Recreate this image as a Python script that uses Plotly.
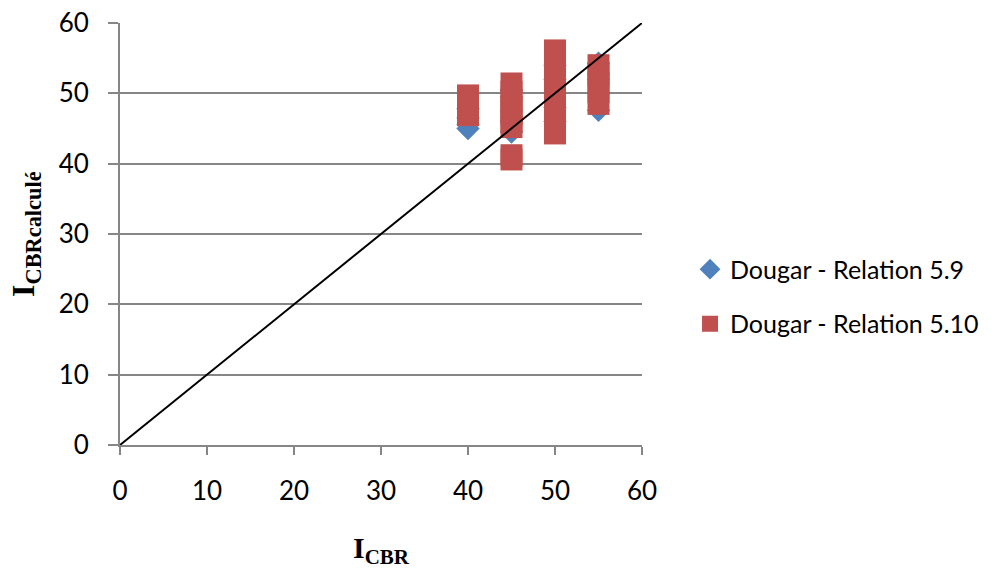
import plotly.graph_objects as go

# Dougar - Relation 5.9 (blue diamonds)
x_59 = [40, 40, 40, 40, 45, 45, 45, 45, 45, 50, 50, 50, 50, 50, 55, 55, 55, 55]
y_59 = [45.0, 45.6, 46.5, 47.8, 44.5, 46.0, 47.5, 49.5, 50.5, 46.0, 48.0, 50.0, 52.0, 54.0, 54.3, 52.0, 50.0, 47.6]

# Dougar - Relation 5.10 (red squares)
x_510 = [40, 40, 40, 40, 40,
         45, 45, 45, 45, 45, 45, 45, 45, 45,
         50, 50, 50, 50, 50, 50, 50, 50, 50, 50, 50,
         55, 55, 55, 55, 55]
y_510 = [49.7, 49.0, 48.3, 47.5, 46.9,
         51.4, 50.2, 49.0, 48.0, 47.0, 46.0, 45.2, 41.2, 40.6,
         56.1, 55.2, 53.8, 52.5, 51.7, 50.4, 49.3, 48.1, 46.8, 45.9, 44.3,
         54.0, 52.7, 51.5, 50.2, 48.5]

# Reference line y = x
line_x = [0, 60]
line_y = [0, 60]

x_ticks = [0, 10, 20, 30, 40, 50, 60]
y_ticks = [0, 10, 20, 30, 40, 50, 60]

x_title = "<b>I<sub>CBR</sub></b>"
y_title = "<b>I<sub>CBRcalculé</sub></b>"

fig = go.Figure()
fig.add_trace(go.Scatter(
    x=x_59, y=y_59, mode="markers", name="Dougar - Relation 5.9",
    legendgroup="a",
    marker=dict(symbol="diamond", size=18, color="#4F81BD"),
))
fig.add_trace(go.Scatter(
    x=x_510, y=y_510, mode="markers", name="Dougar - Relation 5.10",
    legendgroup="b",
    marker=dict(symbol="square", size=22, color="#C0504D"),
))
fig.add_trace(go.Scatter(
    x=line_x, y=line_y, mode="lines", showlegend=False,
    line=dict(color="black", width=2),
))

axis_common = dict(
    showline=True, linecolor="#868686", linewidth=2,
    ticks="outside", tickcolor="#868686", tickwidth=2,
    tickfont=dict(family="Lato", size=26, color="black"),
    zeroline=False, automargin=False, ticklabelstandoff=14,
    ticklabeloverflow="allow",
)

fig.update_layout(
    width=991, height=561,
    margin=dict(l=112, r=357, t=15, b=124),
    paper_bgcolor="white", plot_bgcolor="white",
    xaxis=dict(
        range=[0, 60], tickvals=x_ticks, showgrid=False, ticklen=8,
        **axis_common,
    ),
    yaxis=dict(
        range=[0, 60], tickvals=y_ticks, showgrid=True, ticklen=10,
        gridcolor="#868686", gridwidth=2,
        **axis_common,
    ),
    legend=dict(
        x=1.092, y=0.352, xanchor="left", yanchor="middle",
        font=dict(family="Lato", size=25, color="black"),
        tracegroupgap=19, traceorder="grouped",
        bgcolor="rgba(0,0,0,0)",
    ),
    showlegend=True,
    annotations=[
        dict(text=x_title, xref="paper", yref="paper", x=0.5, y=-0.2,
             xanchor="center", yanchor="top", showarrow=False,
             font=dict(family="Liberation Serif", size=30, color="black")),
        dict(text=y_title, xref="paper", yref="paper", x=-0.182, y=0.5,
             xanchor="center", yanchor="middle", showarrow=False, textangle=-90,
             font=dict(family="Liberation Serif", size=32, color="black")),
    ],
)

fig.write_html("out.html")
